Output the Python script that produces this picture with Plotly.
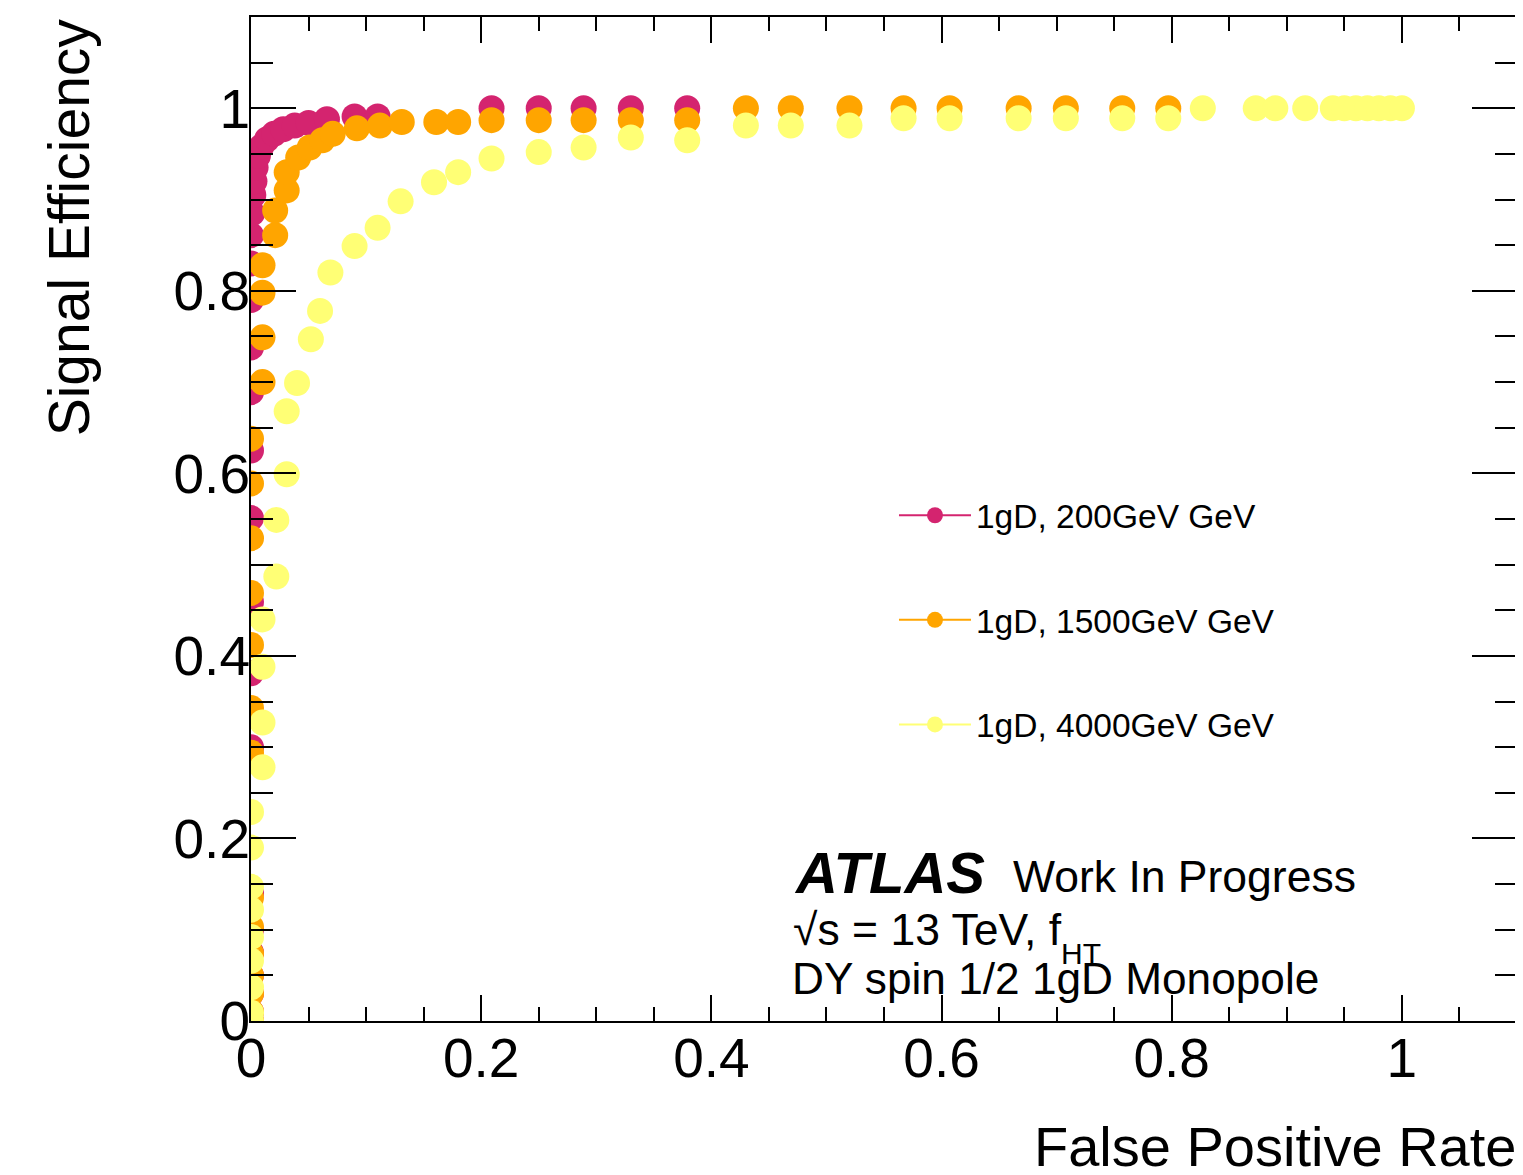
import plotly.graph_objects as go

# ---------------- data ----------------
labels = ["1gD, 200GeV GeV", "1gD, 1500GeV GeV", "1gD, 4000GeV GeV"]
colors = ["#d4246f", "#ffa500", "#ffff75"]

fpr_200 = [0.000, 0.000, 0.000, 0.000, 0.000, 0.000, 0.000, 0.000, 0.000, 0.000, 0.000, 0.000,
           0.000, 0.000, 0.000, 0.000, 0.000, 0.001, 0.002, 0.003, 0.004, 0.006, 0.009, 0.014,
           0.020, 0.028, 0.038, 0.050, 0.066, 0.090, 0.110, 0.209, 0.250, 0.289, 0.330, 0.379]
eff_200 = [0.000, 0.010, 0.030, 0.050, 0.075, 0.100, 0.140, 0.300, 0.381, 0.459, 0.551, 0.625,
           0.689, 0.738, 0.790, 0.830, 0.861, 0.885, 0.905, 0.920, 0.935, 0.948, 0.958, 0.966,
           0.972, 0.977, 0.981, 0.984, 0.988, 0.991, 0.991, 1.000, 1.000, 1.000, 1.000, 1.000]

fpr_1500 = [0.000, 0.000, 0.000, 0.000, 0.000, 0.000, 0.000, 0.000, 0.000, 0.000, 0.000, 0.000,
            0.000, 0.000, 0.010, 0.010, 0.010, 0.010, 0.021, 0.021, 0.031, 0.031, 0.041, 0.051,
            0.062, 0.071, 0.092, 0.112, 0.131, 0.161, 0.180, 0.209, 0.250, 0.289, 0.330, 0.379,
            0.430, 0.469, 0.520, 0.567, 0.607, 0.667, 0.708, 0.757, 0.797]
eff_1500 = [0.000, 0.010, 0.030, 0.050, 0.074, 0.103, 0.135, 0.294, 0.343, 0.412, 0.469, 0.529,
            0.589, 0.638, 0.700, 0.749, 0.798, 0.828, 0.861, 0.888, 0.910, 0.930, 0.946, 0.957,
            0.965, 0.972, 0.978, 0.981, 0.985, 0.985, 0.985, 0.987, 0.987, 0.987, 0.987, 0.987,
            1.000, 1.000, 1.000, 1.000, 1.000, 1.000, 1.000, 1.000, 1.000]

fpr_4000 = [0.000, 0.000, 0.000, 0.000, 0.000, 0.000, 0.000, 0.000, 0.000, 0.010, 0.010, 0.010,
            0.010, 0.022, 0.022, 0.031, 0.031, 0.040, 0.052, 0.060, 0.069, 0.090, 0.110, 0.130,
            0.159, 0.180, 0.209, 0.250, 0.289, 0.330, 0.379, 0.430, 0.469, 0.520, 0.567, 0.607,
            0.667, 0.708, 0.757, 0.797, 0.827, 0.873, 0.890, 0.916, 0.940, 0.950, 0.960, 0.970,
            0.980, 0.990, 1.000]
eff_4000 = [0.000, 0.009, 0.037, 0.066, 0.092, 0.122, 0.147, 0.190, 0.229, 0.278, 0.327, 0.388,
            0.440, 0.487, 0.549, 0.599, 0.668, 0.699, 0.747, 0.778, 0.820, 0.849, 0.869, 0.898,
            0.919, 0.930, 0.945, 0.952, 0.957, 0.968, 0.965, 0.981, 0.981, 0.981, 0.989, 0.989,
            0.989, 0.989, 0.989, 0.989, 1.000, 1.000, 1.000, 1.000, 1.000, 1.000, 1.000, 1.000,
            1.000, 1.000, 1.000]

xticks = [0, 0.2, 0.4, 0.6, 0.8, 1.0]
xticklabels = ["0", "0.2", "0.4", "0.6", "0.8", "1"]
yticks = [0, 0.2, 0.4, 0.6, 0.8, 1.0]
yticklabels = ["0", "0.2", "0.4", "0.6", "0.8", "1"]

FONT = "Liberation Sans, Arial, Helvetica, sans-serif"

# ---------------- figure ----------------
fig = go.Figure()
series = [(fpr_200, eff_200), (fpr_1500, eff_1500), (fpr_4000, eff_4000)]
for (xs, ys), lab, col in zip(series, labels, colors):
    fig.add_trace(go.Scatter(
        x=xs, y=ys, mode="markers", name=lab, showlegend=False,
        marker=dict(symbol="circle", size=26, color=col, line=dict(width=0)),
        hoverinfo="x+y",
    ))
# legend entries (line + marker, as in the original legend)
for i, (lab, col) in enumerate(zip(labels, colors)):
    fig.add_trace(go.Scatter(
        x=[None], y=[None], mode="lines+markers", name=lab, legendgroup=f"g{i}",
        marker=dict(symbol="circle", size=26, color=col),
        line=dict(color=col, width=2),
    ))

axis_common = dict(
    showline=True, linecolor="black", linewidth=2, mirror="ticks",
    showgrid=False, zeroline=False, ticks="inside", tickcolor="black",
    tickwidth=2, tickfont=dict(family=FONT, size=55, color="black"),
)
fig.update_xaxes(range=[0, 1.1], tickvals=xticks, ticktext=xticklabels,
                 ticklen=26, ticklabelstandoff=-12,
                 minor=dict(dtick=0.05, ticklen=14, ticks="inside",
                            tickcolor="black", tickwidth=2),
                 **axis_common)
fig.update_yaxes(range=[0, 1.1], tickvals=yticks, ticktext=yticklabels,
                 ticklen=45, ticklabelstandoff=-12,
                 minor=dict(dtick=0.05, ticklen=22, ticks="inside",
                            tickcolor="black", tickwidth=2),
                 **axis_common)

# page body has an 8px margin: work in reference-picture pixels and shift
OFF = 8
W, H = 1523 - OFF, 1175 - OFF
PL, PR, PT, PB = 251, 1519, 17, 1021          # plot frame in picture pixels
L, T = PL - OFF, PT - OFF
R = W - (PR - OFF)
B = H - (PB - OFF)
PW, PH = PR - PL, PB - PT


def px(xp):
    return (xp - PL) / PW


def py(yp):
    return (PB - yp) / PH


ann = [
    dict(text="Signal Efficiency", x=px(36), y=1.0, xanchor="left", yanchor="top",
         textangle=-90, font=dict(size=57)),
    dict(text="False Positive Rate", x=1.0, y=py(1146), xanchor="right", yanchor="middle",
         font=dict(size=56)),
    dict(text="<b><i>ATLAS</i></b>", x=px(794), y=py(872), xanchor="left", yanchor="middle",
         font=dict(size=58)),
    dict(text="Work In Progress", x=px(1013), y=py(876), xanchor="left", yanchor="middle",
         font=dict(size=44.5)),
    dict(text="\u221As = 13 TeV, f", x=px(793), y=py(929), xanchor="left",
         yanchor="middle", font=dict(size=44.5)),
    dict(text="HT", x=px(1061), y=py(953), xanchor="left",
         yanchor="middle", font=dict(size=30)),
    dict(text="DY spin 1/2 1gD Monopole", x=px(792), y=py(978), xanchor="left",
         yanchor="middle", font=dict(size=44.2)),
]
for a in ann:
    a.update(xref="paper", yref="paper", showarrow=False, borderpad=0)
    a["font"].update(family=FONT, color="black")

fig.update_layout(
    width=W, height=H,
    margin=dict(l=L, r=R, t=T, b=B, pad=0),
    paper_bgcolor="white", plot_bgcolor="white",
    font=dict(family=FONT, color="black"),
    annotations=ann,
    legend=dict(x=px(895), y=py(487), xanchor="left", yanchor="top",
                bgcolor="rgba(0,0,0,0)", borderwidth=0,
                font=dict(family=FONT, size=33.5, color="black"),
                itemwidth=72, tracegroupgap=58, itemsizing="trace"),
    showlegend=True,
)

fig.write_html("out.html")
